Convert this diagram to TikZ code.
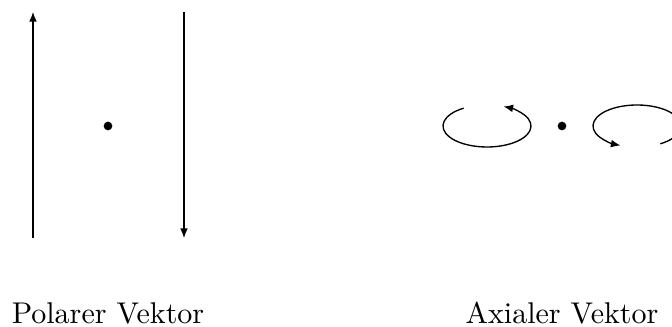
\documentclass[tikz,border=0pt]{standalone}
\usepackage{tikz}
\usetikzlibrary{arrows.meta, positioning}

\begin{document}
\begin{tikzpicture}[x=0.3333pt, y=0.3333pt,
    vec/.style={-{Latex[length=3.2pt,width=2.6pt]}, line width=0.45pt},
    spin/.style={-{Latex[length=3.2pt,width=2.6pt]}, line width=0.45pt},
    dot/.style={circle, fill=black, inner sep=0pt, minimum size=2.9pt},
    lbl/.style={inner sep=0pt, anchor=base}]
        \useasboundingbox (0,0) rectangle (672,327);
        % polarer Vektor
        \node[dot] (pol) at (108,201) {};
        \coordinate (pa) at (33,89);
        \coordinate (pb) at (33,315);
        \coordinate (pc) at (184,315);
        \coordinate (pd) at (184,89);
        \draw[vec] (pa) -- (pb);
        \draw[vec] (pc) -- (pd);
        \node[lbl] (poltext) at (108,3) {Polarer Vektor};
        % axialer Vektor
        \node[dot] (ax) at (562,201) {};
        \coordinate (al) at (487,201);
        \coordinate (ar) at (637,201);
        \draw[spin] ([shift={(122:44 and 21)}]al)
          arc[start angle=122, end angle=428, x radius=44, y radius=21];
        \draw[spin] ([shift={(-58:44 and 21)}]ar)
          arc[start angle=-58, end angle=248, x radius=44, y radius=21];
        \node[lbl] (axtext) at (562,3) {Axialer Vektor};
      \end{tikzpicture}
\end{document}
